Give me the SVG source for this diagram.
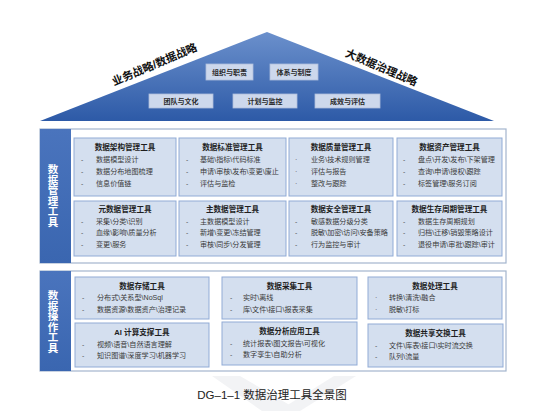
<svg xmlns="http://www.w3.org/2000/svg" width="537" height="411" viewBox="0 0 537 411">
<defs>
<linearGradient id="roofG" x1="0" y1="0" x2="0" y2="1">
<stop offset="0" stop-color="#6b90cc"/>
<stop offset="1" stop-color="#2d5aa7"/>
</linearGradient>
<linearGradient id="barG" x1="0" y1="0" x2="0" y2="1">
<stop offset="0" stop-color="#4a74bd"/>
<stop offset="1" stop-color="#3a66b0"/>
</linearGradient>
</defs>
<style>
text{font-family:"Liberation Sans","Noto Sans CJK SC",sans-serif;}
.frame{fill:#ffffff;stroke:#a3b5cd;stroke-width:1.2;}
.bar{fill:url(#barG);}
.cell{fill:#d4dfef;stroke:#91abd6;stroke-width:1;}
.rbox{fill:#cdd8ec;stroke:#aebfdd;stroke-width:0.8;}
.rt{font-size:7px;fill:#2a2a2a;text-anchor:middle;font-weight:bold;}
.vt{font-size:10.5px;fill:#ffffff;font-weight:bold;text-anchor:middle;}
.tt{font-size:7.6px;fill:#1e1e1e;font-weight:bold;text-anchor:middle;}
.it{font-size:7.1px;fill:#3a3a3a;}
.bl{font-size:7px;fill:#555;}
.rl{font-size:11px;font-weight:bold;fill:#111;stroke:#ffffff;stroke-width:2.2;paint-order:stroke;text-anchor:middle;}
.cap{font-size:11.5px;fill:#222;text-anchor:middle;}
</style>
<rect width="537" height="411" fill="#ffffff"/>
<g id="watermark" fill="#f2f3f5">
<polygon points="212,376 240,376 300,411 262,411"/>
<polygon points="334,376 356,376 300,411 278,411"/>
</g>
<g id="roof">
<polygon points="267,32 40,121 494,121" fill="url(#roofG)"/>
<text class="rl" transform="translate(156,68) rotate(-23)">业务战略/数据战略</text>
<text class="rl" transform="translate(380,71) rotate(23)">大数据治理战略</text>
</g>
<g id="r-org"><rect class="rbox" x="206" y="64" width="47" height="16"/><text class="rt" x="229.5" y="74.5">组织与职责</text></g>
<g id="r-sys"><rect class="rbox" x="270" y="64" width="48" height="16"/><text class="rt" x="294" y="74.5">体系与制度</text></g>
<g id="r-team"><rect class="rbox" x="149" y="94" width="64" height="14"/><text class="rt" x="181" y="103.5">团队与文化</text></g>
<g id="r-plan"><rect class="rbox" x="233" y="94" width="64" height="14"/><text class="rt" x="265" y="103.5">计划与监控</text></g>
<g id="r-eval"><rect class="rbox" x="315" y="94" width="65" height="14"/><text class="rt" x="347.5" y="103.5">成效与评估</text></g>

<g id="mgmt">
<rect class="frame" x="40" y="129" width="466" height="134"/>
<rect class="bar" x="40" y="129" width="31" height="134"/>
<text class="vt" x="53" y="173">数</text>
<text class="vt" x="53" y="183.5">据</text>
<text class="vt" x="53" y="194">管</text>
<text class="vt" x="53" y="204.5">理</text>
<text class="vt" x="53" y="215">工</text>
<text class="vt" x="53" y="225.5">具</text>
</g>
<g id="m1"><rect class="cell" x="74" y="138" width="102" height="58"/>
<text class="tt" x="125" y="150">数据架构管理工具</text>
<text class="bl" x="81" y="162">-</text><text class="it" x="96" y="162">数据模型设计</text>
<text class="bl" x="81" y="174">-</text><text class="it" x="96" y="174">数据分布地图梳理</text>
<text class="bl" x="81" y="186">-</text><text class="it" x="96" y="186">信息价值链</text></g>
<g id="m2"><rect class="cell" x="179" y="138" width="107" height="58"/>
<text class="tt" x="232.5" y="150">数据标准管理工具</text>
<text class="bl" x="186" y="162">-</text><text class="it" x="200" y="162">基础\指标\代码标准</text>
<text class="bl" x="186" y="174">-</text><text class="it" x="200" y="174">申请\审核\发布\变更\废止</text>
<text class="bl" x="186" y="186">-</text><text class="it" x="200" y="186">评估与监检</text></g>
<g id="m3"><rect class="cell" x="289" y="138" width="104" height="58"/>
<text class="tt" x="341" y="150">数据质量管理工具</text>
<text class="bl" x="295" y="162">·</text><text class="it" x="311" y="162">业务\技术规则管理</text>
<text class="bl" x="295" y="174">·</text><text class="it" x="311" y="174">评估与报告</text>
<text class="bl" x="295" y="186">·</text><text class="it" x="311" y="186">整改与跟踪</text></g>
<g id="m4"><rect class="cell" x="397" y="138" width="105" height="58"/>
<text class="tt" x="449.5" y="150">数据资产管理工具</text>
<text class="bl" x="403" y="162">-</text><text class="it" x="418" y="162">盘点\开发\发布\下架管理</text>
<text class="bl" x="403" y="174">-</text><text class="it" x="418" y="174">查询\申请\授权\跟踪</text>
<text class="bl" x="403" y="186">-</text><text class="it" x="418" y="186">标签管理\服务订阅</text></g>
<g id="m5"><rect class="cell" x="74" y="201" width="102" height="55"/>
<text class="tt" x="125" y="212">元数据管理工具</text>
<text class="bl" x="81" y="223.5">-</text><text class="it" x="96" y="223.5">采集\分类\识别</text>
<text class="bl" x="81" y="235">-</text><text class="it" x="96" y="235">血缘\影响\质量分析</text>
<text class="bl" x="81" y="246.5">-</text><text class="it" x="96" y="246.5">变更\服务</text></g>
<g id="m6"><rect class="cell" x="179" y="201" width="107" height="55"/>
<text class="tt" x="232.5" y="212">主数据管理工具</text>
<text class="bl" x="186" y="223.5">-</text><text class="it" x="200" y="223.5">主数据模型设计</text>
<text class="bl" x="186" y="235">-</text><text class="it" x="200" y="235">新增\变更\冻结管理</text>
<text class="bl" x="186" y="246.5">-</text><text class="it" x="200" y="246.5">审核\同步\分发管理</text></g>
<g id="m7"><rect class="cell" x="289" y="201" width="104" height="55"/>
<text class="tt" x="341" y="212">数据安全管理工具</text>
<text class="bl" x="295" y="223.5">-</text><text class="it" x="311" y="223.5">敏感数据分级分类</text>
<text class="bl" x="295" y="235">-</text><text class="it" x="311" y="235">脱敏\加密\访问\安备策略</text>
<text class="bl" x="295" y="246.5">-</text><text class="it" x="311" y="246.5">行为监控与审计</text></g>
<g id="m8"><rect class="cell" x="397" y="201" width="105" height="55"/>
<text class="tt" x="449.5" y="212">数据生存周期管理工具</text>
<text class="bl" x="403" y="223.5">-</text><text class="it" x="418" y="223.5">数据生存周期规划</text>
<text class="bl" x="403" y="235">-</text><text class="it" x="418" y="235">归档\迁移\销毁策略设计</text>
<text class="bl" x="403" y="246.5">-</text><text class="it" x="418" y="246.5">退役申请\审批\跟踪\审计</text></g>

<g id="ops">
<rect class="frame" x="40" y="271" width="466" height="100"/>
<rect class="bar" x="40" y="271" width="31" height="100"/>
<text class="vt" x="53" y="299">数</text>
<text class="vt" x="53" y="309.5">据</text>
<text class="vt" x="53" y="320">操</text>
<text class="vt" x="53" y="330.5">作</text>
<text class="vt" x="53" y="341">工</text>
<text class="vt" x="53" y="351.5">具</text>
</g>
<g id="o1"><rect class="cell" x="75" y="277" width="134" height="42"/>
<text class="tt" x="142" y="289">数据存储工具</text>
<text class="bl" x="82" y="300">-</text><text class="it" x="97" y="300">分布式\关系型\NoSql</text>
<text class="bl" x="82" y="311.5">-</text><text class="it" x="97" y="311.5">数据资源\数据资产\治理记录</text></g>
<g id="o2"><rect class="cell" x="222" y="277" width="135" height="42"/>
<text class="tt" x="289.5" y="289">数据采集工具</text>
<text class="bl" x="230" y="300">-</text><text class="it" x="243" y="300">实时\离线</text>
<text class="bl" x="230" y="311.5">-</text><text class="it" x="243" y="311.5">库\文件\接口\报表采集</text></g>
<g id="o3"><rect class="cell" x="368" y="277" width="134" height="42"/>
<text class="tt" x="435" y="289">数据处理工具</text>
<text class="bl" x="375" y="300">·</text><text class="it" x="389" y="300">转换\清洗\融合</text>
<text class="bl" x="375" y="311.5">·</text><text class="it" x="389" y="311.5">脱敏\打标</text></g>
<g id="o4"><rect class="cell" x="75" y="323" width="134" height="44"/>
<text class="tt" x="142" y="335">AI 计算支撑工具</text>
<text class="bl" x="82" y="346.5">-</text><text class="it" x="97" y="346.5">视频\语音\自然语言理解</text>
<text class="bl" x="82" y="358">-</text><text class="it" x="97" y="358">知识图谱\深度学习\机器学习</text></g>
<g id="o5"><rect class="cell" x="222" y="322" width="135" height="43"/>
<text class="tt" x="289.5" y="334">数据分析应用工具</text>
<text class="bl" x="230" y="345.5">-</text><text class="it" x="243" y="345.5">统计报表\图文报告\可视化</text>
<text class="bl" x="230" y="357">-</text><text class="it" x="243" y="357">数字孪生\自助分析</text></g>
<g id="o6"><rect class="cell" x="368" y="324" width="135" height="43"/>
<text class="tt" x="435.5" y="336">数据共享交换工具</text>
<text class="bl" x="375" y="347.5">-</text><text class="it" x="389" y="347.5">文件\库表\接口\实时流交换</text>
<text class="bl" x="375" y="359">-</text><text class="it" x="389" y="359">队列\流量</text></g>

<g id="connectors"></g>
<text class="cap" x="272" y="399">DG–1–1 数据治理工具全景图</text>
</svg>
